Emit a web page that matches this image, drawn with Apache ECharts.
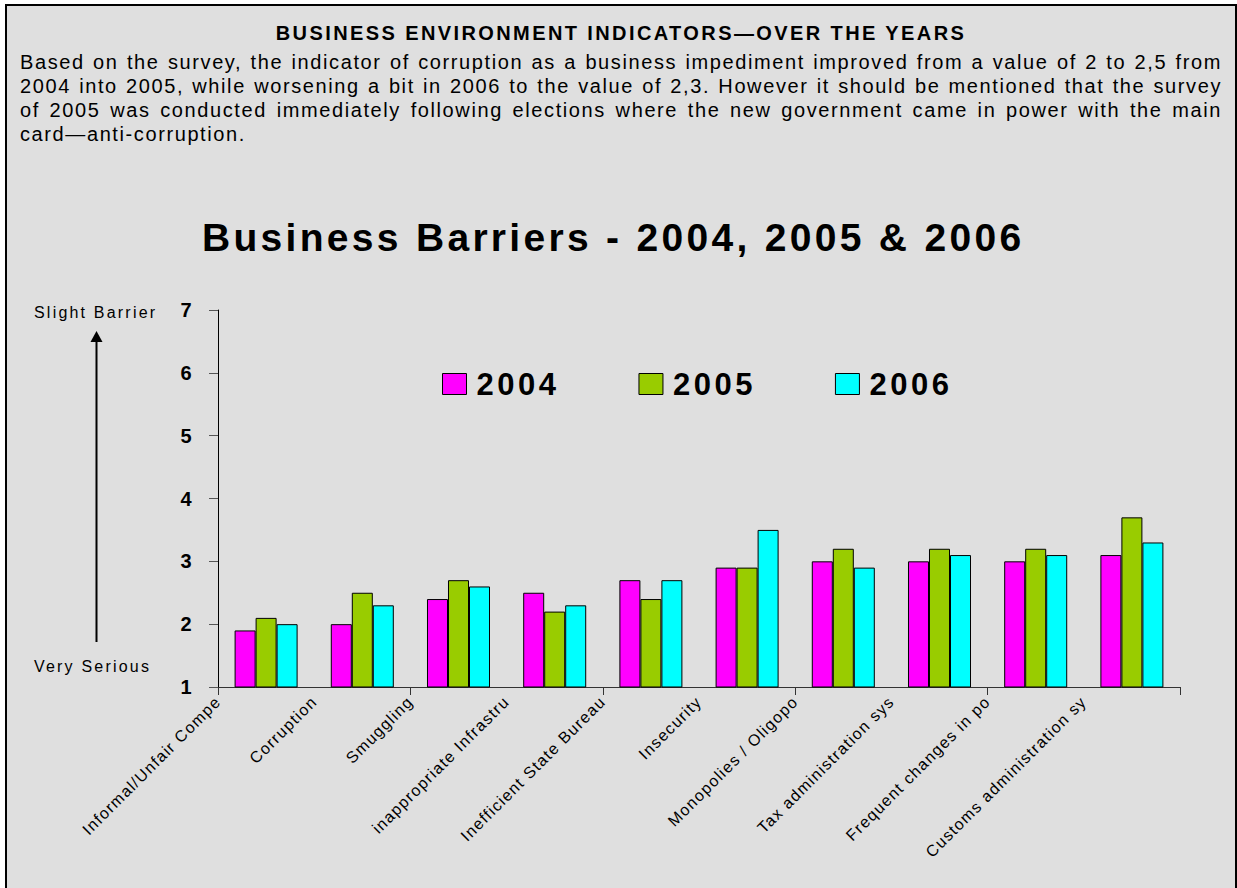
<!DOCTYPE html>
<html>
<head>
<meta charset="utf-8">
<title>Business Barriers - 2004, 2005 & 2006</title>
<script src="https://cdn.jsdelivr.net/npm/echarts@6/dist/echarts.min.js"></script>
<style>
  html, body { margin: 0; padding: 0; background: #ffffff; width: 1237px; height: 888px; overflow: hidden; }
  body { position: relative; font-family: "Liberation Sans", Arial, sans-serif; color: #000; }
  #panel { position: absolute; left: 5px; top: 4px; width: 1228px; height: 920px; border: 2px solid #000; background: #dfdfdf; }
  #heading { position: absolute; left: 0; top: 23px; width: 1242px; text-align: center; font-weight: bold; font-size: 20px; line-height: 20px; letter-spacing: 2.4px; white-space: nowrap; }
  #intro { position: absolute; left: 20px; top: 50px; width: 1202px; font-size: 20px; line-height: 24px; letter-spacing: 1.6px; }
  #intro div { text-align: justify; text-align-last: justify; white-space: nowrap; }
  #intro div.last { text-align-last: left; }
  #chartTitle { position: absolute; left: 202px; top: 218px; font-weight: bold; font-size: 39px; line-height: 39px; letter-spacing: 3.3px; white-space: nowrap; }
  .scaleNote { position: absolute; left: 34px; font-size: 16px; line-height: 16px; letter-spacing: 2.2px; white-space: nowrap; }
  #chart { position: absolute; left: 0; top: 0; width: 1237px; height: 888px; }
  #chart svg text { letter-spacing: 1.3px; }
  #chart svg text[style*="31px"] { letter-spacing: 3.5px; }
</style>
</head>
<body>
<div id="panel"></div>
<div id="heading">BUSINESS ENVIRONMENT INDICATORS—OVER THE YEARS</div>
<div id="intro">
  <div>Based on the survey, the indicator of corruption as a business impediment improved from a value of 2 to 2,5 from</div>
  <div>2004 into 2005, while worsening a bit in 2006 to the value of 2,3. However it should be mentioned that the survey</div>
  <div>of 2005 was conducted immediately following elections where the new government came in power with the main</div>
  <div class="last">card—anti-corruption.</div>
</div>
<div id="chartTitle">Business Barriers - 2004, 2005 &amp; 2006</div>
<div class="scaleNote" style="top:305px">Slight Barrier</div>
<div class="scaleNote" style="top:659px">Very Serious</div>
<div id="chart"></div>
<script>
// Barrier categories (labels as shown under the axis)
const categories = [
  'Informal/Unfair Compe',
  'Corruption',
  'Smuggling',
  'inappropriate Infrastru',
  'Inefficient State Bureau',
  'Insecurity',
  'Monopolies / Oligopo',
  'Tax administration sys',
  'Frequent changes in po',
  'Customs administration sy'
];
const years = ['2004', '2005', '2006'];
// Scores: 1 = very serious barrier, 7 = slight barrier
const values2004 = [1.9, 2.0, 2.4, 2.5, 2.7, 2.9, 3.0, 3.0, 3.0, 3.1];
const values2005 = [2.1, 2.5, 2.7, 2.2, 2.4, 2.9, 3.2, 3.2, 3.2, 3.7];
const values2006 = [2.0, 2.3, 2.6, 2.3, 2.7, 3.5, 2.9, 3.1, 3.1, 3.3];
const yMin = 1, yMax = 7, yStep = 1;

const seriesValues = [values2004, values2005, values2006];
const seriesColors = ['#ff00ff', '#99cc00', '#00ffff'];
const FONT = '"Liberation Sans", Arial, sans-serif';

const gridBox = { left: 218, right: 57, top: 310, bottom: 201 };

const chart = echarts.init(document.getElementById('chart'), null, { renderer: 'svg' });

chart.setOption({
  backgroundColor: 'transparent',
  animation: false,
  textStyle: { fontFamily: FONT },
  legend: {
    data: years,
    left: 442,
    top: 366,
    padding: 0,
    icon: 'rect',
    itemWidth: 24,
    itemHeight: 21,
    itemGap: 93,
    itemStyle: { borderColor: '#000', borderWidth: 1 },
    textStyle: {
      fontFamily: FONT, fontSize: 31, fontWeight: 'bold', color: '#000',
      lineHeight: 36, padding: [0, 0, 0, 5]
    }
  },
  grid: [
    Object.assign({ containLabel: false }, gridBox),
    Object.assign({ containLabel: false }, gridBox)
  ],
  xAxis: [
    {
      type: 'category',
      gridIndex: 0,
      data: categories,
      boundaryGap: true,
      axisLine: { lineStyle: { color: '#333', width: 1 } },
      axisTick: { show: true, length: 8, inside: false, lineStyle: { color: '#333' } },
      axisLabel: { show: false },
      splitLine: { show: false }
    },
    {
      // category names sit at the band boundaries, rotated
      type: 'category',
      gridIndex: 1,
      data: categories.concat(['']),
      boundaryGap: false,
      position: 'bottom',
      axisLine: { show: false },
      axisTick: { show: false },
      splitLine: { show: false },
      axisLabel: {
        interval: 0, rotate: 45, margin: 12,
        fontFamily: FONT, fontSize: 16, color: '#000'
      }
    }
  ],
  yAxis: [
    {
      type: 'value',
      gridIndex: 0,
      min: yMin, max: yMax, interval: yStep,
      axisLine: { show: true, lineStyle: { color: '#000', width: 1 } },
      axisTick: { show: true, length: 9, inside: false, lineStyle: { color: '#555' } },
      axisLabel: { margin: 25, fontFamily: FONT, fontSize: 20, fontWeight: 'bold', color: '#000' },
      splitLine: { show: false }
    },
    {
      type: 'value',
      gridIndex: 1,
      min: yMin, max: yMax, interval: yStep,
      show: false
    }
  ],
  series: years.map((y, i) => ({
    name: y,
    type: 'bar',
    xAxisIndex: 0,
    yAxisIndex: 0,
    data: seriesValues[i],
    barGap: '0%',
    barCategoryGap: '34.5%',
    itemStyle: { color: seriesColors[i], borderColor: '#000', borderWidth: 1 }
  })),
  graphic: [
    {
      type: 'line',
      shape: { x1: 96.5, y1: 642, x2: 96.5, y2: 340 },
      style: { stroke: '#000', lineWidth: 2 }
    },
    {
      type: 'polygon',
      shape: { points: [[90.5, 342], [102.5, 342], [96.5, 331]] },
      style: { fill: '#000' }
    }
  ]
});
</script>
</body>
</html>
